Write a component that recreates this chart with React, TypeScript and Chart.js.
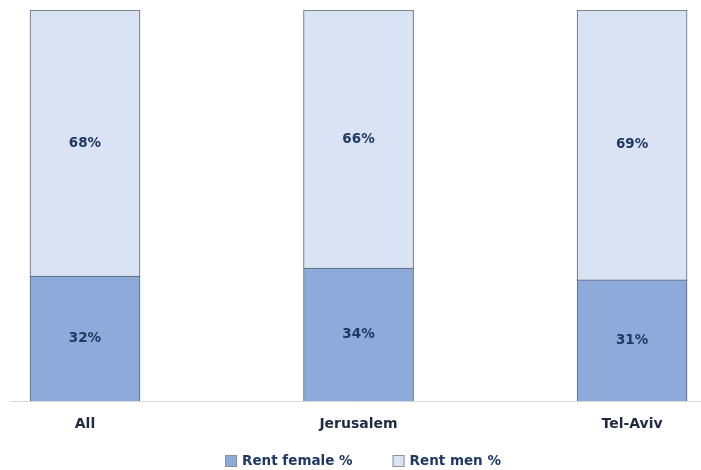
import React, { useEffect, useRef } from "react";
import { Chart, registerables } from "chart.js";

Chart.register(...registerables);

const categories = ["All", "Jerusalem", "Tel-Aviv"];
const rentFemale = [32, 34, 31];
const rentMen = [68, 66, 69];
const seriesNames = ["Rent female %", "Rent men %"];

const FONT = "'DejaVu Sans', Verdana, sans-serif";
const TEXT_DARK = "#1f3864";

// Writes each segment's value in the middle of its bar piece
const segmentLabels = {
  id: "segmentLabels",
  afterDatasetsDraw(chart: any) {
    const ctx = chart.ctx;
    ctx.save();
    ctx.font = `bold 13.5px ${FONT}`;
    ctx.fillStyle = TEXT_DARK;
    ctx.textAlign = "center";
    ctx.textBaseline = "middle";
    chart.data.datasets.forEach((ds: any, di: number) => {
      const meta = chart.getDatasetMeta(di);
      meta.data.forEach((bar: any, i: number) => {
        const v = ds.data[i].y;
        const { x, y, base } = bar.getProps(["x", "y", "base"], true);
        ctx.fillText(`${v}%`, x, (y + base) / 2);
      });
    });
    ctx.restore();
  },
};

// Row of series swatches under the axis, spaced wider than the stock legend allows
const bottomLegend = {
  id: "bottomLegend",
  afterDraw(chart: any) {
    const ctx = chart.ctx;
    const box = 12;
    const boxGap = 5;
    const itemGap = 40;
    ctx.save();
    ctx.font = `bold 13.5px ${FONT}`;
    const items = chart.data.datasets.map((ds: any) => ({
      label: ds.label,
      fill: ds.backgroundColor,
      w: box + boxGap + ctx.measureText(ds.label).width,
    }));
    const total = items.reduce((s: number, it: any) => s + it.w, 0) + itemGap * (items.length - 1);
    const cy = 461;
    let x = (chart.chartArea.left + chart.chartArea.right) / 2 + 7 - total / 2;
    ctx.textBaseline = "middle";
    ctx.textAlign = "left";
    items.forEach((it: any) => {
      ctx.fillStyle = it.fill;
      ctx.fillRect(x, cy - box / 2, box, box);
      ctx.strokeStyle = "#8c8f96";
      ctx.lineWidth = 1;
      ctx.strokeRect(x + 0.5, cy - box / 2 + 0.5, box - 1, box - 1);
      ctx.fillStyle = TEXT_DARK;
      ctx.fillText(it.label, x + box + boxGap, cy);
      x += it.w + itemGap;
    });
    ctx.restore();
  },
};

export default function App() {
  const ref = useRef<HTMLCanvasElement>(null);

  useEffect(() => {
    if (!ref.current) return;
    const chart = new Chart(ref.current, {
      type: "bar",
      data: {
        datasets: [
          {
            label: seriesNames[0],
            data: rentFemale.map((v, i) => ({ x: i, y: v })),
            backgroundColor: "#8eaadb",
            borderColor: "#5b6473",
            borderWidth: 1,
            barThickness: 110,
          },
          {
            label: seriesNames[1],
            data: rentMen.map((v, i) => ({ x: i, y: v })),
            backgroundColor: "#dae3f3",
            borderColor: "#5b6473",
            borderWidth: 1,
            barThickness: 110,
          },
        ],
      },
      options: {
        animation: false,
        responsive: false,
        maintainAspectRatio: false,
        layout: { padding: { left: 11, right: 0, top: 10, bottom: 30 } },
        scales: {
          x: {
            type: "linear",
            stacked: true,
            offset: false,
            min: -0.2705,
            max: 2.252,
            afterBuildTicks(axis: any) {
              axis.ticks = categories.map((_, i) => ({ value: i }));
            },
            ticks: {
              callback: (v: any) => categories[v as number] ?? "",
              color: "#1f2a44",
              font: { family: FONT, size: 14, weight: "bold" },
              padding: 7,
              autoSkip: false,
              maxRotation: 0,
            },
            grid: { display: false },
            border: { display: true, color: "#d9d9d9", width: 1 },
          },
          y: {
            stacked: true,
            min: 0,
            max: 100,
            display: false,
          },
        },
        plugins: {
          legend: { display: false },
          tooltip: { enabled: false },
        },
      },
      plugins: [segmentLabels, bottomLegend],
    } as any);
    return () => chart.destroy();
  }, []);

  return (
    <div style={{ position: "fixed", left: 0, top: 0, width: 701, height: 470, background: "#fff" }}>
      <canvas ref={ref} width={701} height={470} />
    </div>
  );
}
